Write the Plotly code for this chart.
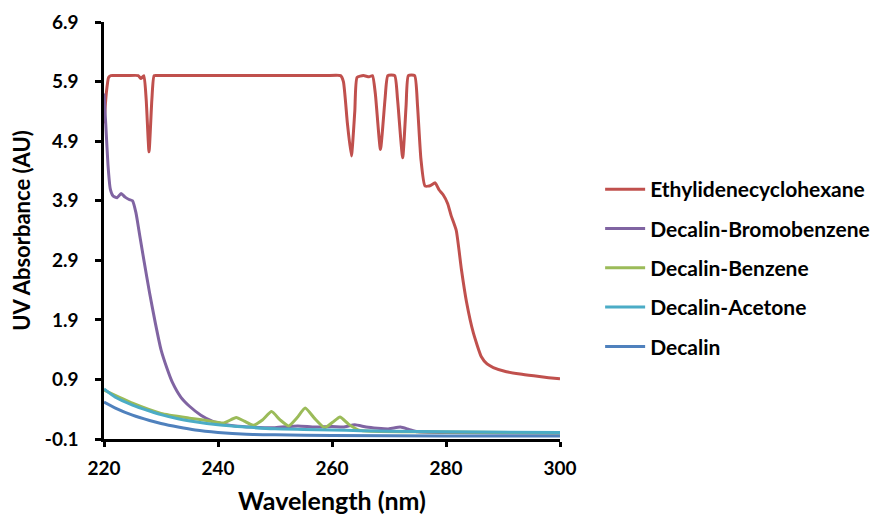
import plotly.graph_objects as go

# ---- data ----
series_names = ["Ethylidenecyclohexane", "Decalin-Bromobenzene", "Decalin-Benzene",
                "Decalin-Acetone", "Decalin"]
series_colors = ["#C0504D", "#8064A2", "#9BBB59", "#4BACC6", "#4F81BD"]

wl_ethyl = [220, 220.4, 220.8, 221.2, 222, 224, 226, 226.5, 227, 227.4, 227.9, 228.4, 228.8,
            229.5, 232, 236, 240, 245, 250, 255, 259, 261.5, 262, 262.7, 263.4, 264.0,
            264.4, 265.5, 266.5, 267.1, 267.6, 268.5, 269.3, 269.8, 271.0, 271.5, 272.4,
            273.0, 273.4, 274.5, 275.0, 275.6, 276.3, 277.2, 278.1, 278.8, 279.5, 280.3,
            280.9, 281.8, 282.7, 283.6, 284.8, 286.2, 287.2, 288.3, 290.6, 293, 295.4,
            298, 300]
ab_ethyl = [5.2, 5.7, 5.97, 6.0, 6.0, 6.0, 6.0, 5.95, 6.0, 5.6, 4.72, 5.6, 6.0,
            6.0, 6.0, 6.0, 6.0, 6.0, 6.0, 6.0, 6.0, 6.0, 5.9, 5.2, 4.65, 5.4,
            5.97, 6.0, 5.98, 6.0, 5.7, 4.76, 5.6, 6.0, 6.0, 5.6, 4.62,
            5.5, 6.0, 6.0, 5.5, 4.6, 4.15, 4.15, 4.2, 4.08, 4.0, 3.85,
            3.65, 3.4, 2.75, 2.2, 1.68, 1.28, 1.16, 1.1, 1.03, 0.99, 0.96,
            0.93, 0.91]

wl_bromo = [220, 220.3, 220.7, 221.1, 221.6, 222.3, 223, 223.7, 224.4, 225, 225.6, 226.3,
            227, 228, 229, 230, 231, 232, 233.5, 235, 237, 239, 241, 243, 246, 250,
            254, 257, 260, 262, 264, 266, 268, 270, 272, 273.5, 275, 280, 290, 300]
ab_bromo = [5.7, 5.2, 4.5, 4.1, 3.98, 3.95, 4.02, 3.96, 3.92, 3.9, 3.7, 3.3,
            2.9, 2.35, 1.85, 1.4, 1.1, 0.85, 0.6, 0.45, 0.3, 0.2, 0.15, 0.12, 0.1, 0.09,
            0.12, 0.1, 0.11, 0.1, 0.14, 0.1, 0.08, 0.07, 0.1, 0.06, 0.02, 0.01, 0.0, 0.0]

wl_benz = [220, 225, 230, 235, 238, 241, 243.2, 244.6, 246.2, 247.8, 249.4, 250.9, 252.4,
           253.9, 255.3, 256.9, 258.7, 260.1, 261.4, 262.9, 264.7, 267, 275, 300]
ab_benz = [0.72, 0.5, 0.33, 0.25, 0.21, 0.17, 0.26, 0.2, 0.13, 0.22, 0.36, 0.22, 0.12,
           0.26, 0.42, 0.25, 0.09, 0.18, 0.27, 0.15, 0.05, 0.03, 0.02, 0.0]

wl_acet = [220, 222, 225, 228, 230, 233, 236, 240, 245, 250, 255, 260, 265, 270, 280, 300]
ab_acet = [0.74, 0.6, 0.47, 0.37, 0.31, 0.24, 0.19, 0.14, 0.1, 0.07, 0.06, 0.05, 0.04,
           0.03, 0.02, 0.01]

wl_dec = [220, 222, 225, 228, 230, 233, 236, 240, 245, 250, 260, 280, 300]
ab_dec = [0.52, 0.42, 0.3, 0.21, 0.16, 0.1, 0.05, 0.01, -0.02, -0.03, -0.04, -0.05, -0.05]

x_data = [wl_ethyl, wl_bromo, wl_benz, wl_acet, wl_dec]
y_data = [ab_ethyl, ab_bromo, ab_benz, ab_acet, ab_dec]

y_ticks = [-0.1, 0.9, 1.9, 2.9, 3.9, 4.9, 5.9, 6.9]
x_ticks = [220, 240, 260, 280, 300]

FONT = "Lato"

fig = go.Figure()
for i, (name, col) in enumerate(zip(series_names, series_colors)):
    fig.add_trace(go.Scatter(
        x=x_data[i], y=y_data[i], name=name, mode="lines",
        line=dict(color=col, width=3, shape="spline", smoothing=0.5),
        legendgroup=name,
    ))

fig.update_layout(
    width=872, height=507,
    margin=dict(l=96, r=320, t=14, b=76, autoexpand=False),
    plot_bgcolor="white", paper_bgcolor="white",
    font=dict(family=FONT, color="black"),
    showlegend=True,
    legend=dict(
        x=1.088, xanchor="left", y=0.41, yanchor="middle",
        font=dict(family=FONT, size=21, color="black", weight="bold"),
        tracegroupgap=9, itemwidth=40,
        bgcolor="rgba(0,0,0,0)",
    ),
)
fig.update_xaxes(
    range=[220, 300], tickvals=x_ticks, ticktext=[str(v) for v in x_ticks],
    showline=True, linecolor="black", linewidth=2.5, showgrid=False, zeroline=False,
    ticks="outside", ticklen=5, tickwidth=2.5, tickcolor="black",
    tickfont=dict(family=FONT, size=19, weight="bold"), automargin=False,
    ticklabelstandoff=5,
    title=dict(text="<b>Wavelength (nm)</b>", font=dict(family=FONT, size=25), standoff=16),
)
fig.update_yaxes(
    range=[-0.1, 6.9], tickvals=y_ticks, ticktext=[f"{v:.1f}" for v in y_ticks],
    showline=True, linecolor="black", linewidth=2.5, showgrid=False, zeroline=False,
    ticks="outside", ticklen=6, tickwidth=2.5, tickcolor="black",
    tickfont=dict(family=FONT, size=19, weight="bold"), automargin=False,
    ticklabelstandoff=13,
    title=dict(text="<b>UV Absorbance (AU)</b>", font=dict(family=FONT, size=22), standoff=9),
)

fig.write_html("out.html")
